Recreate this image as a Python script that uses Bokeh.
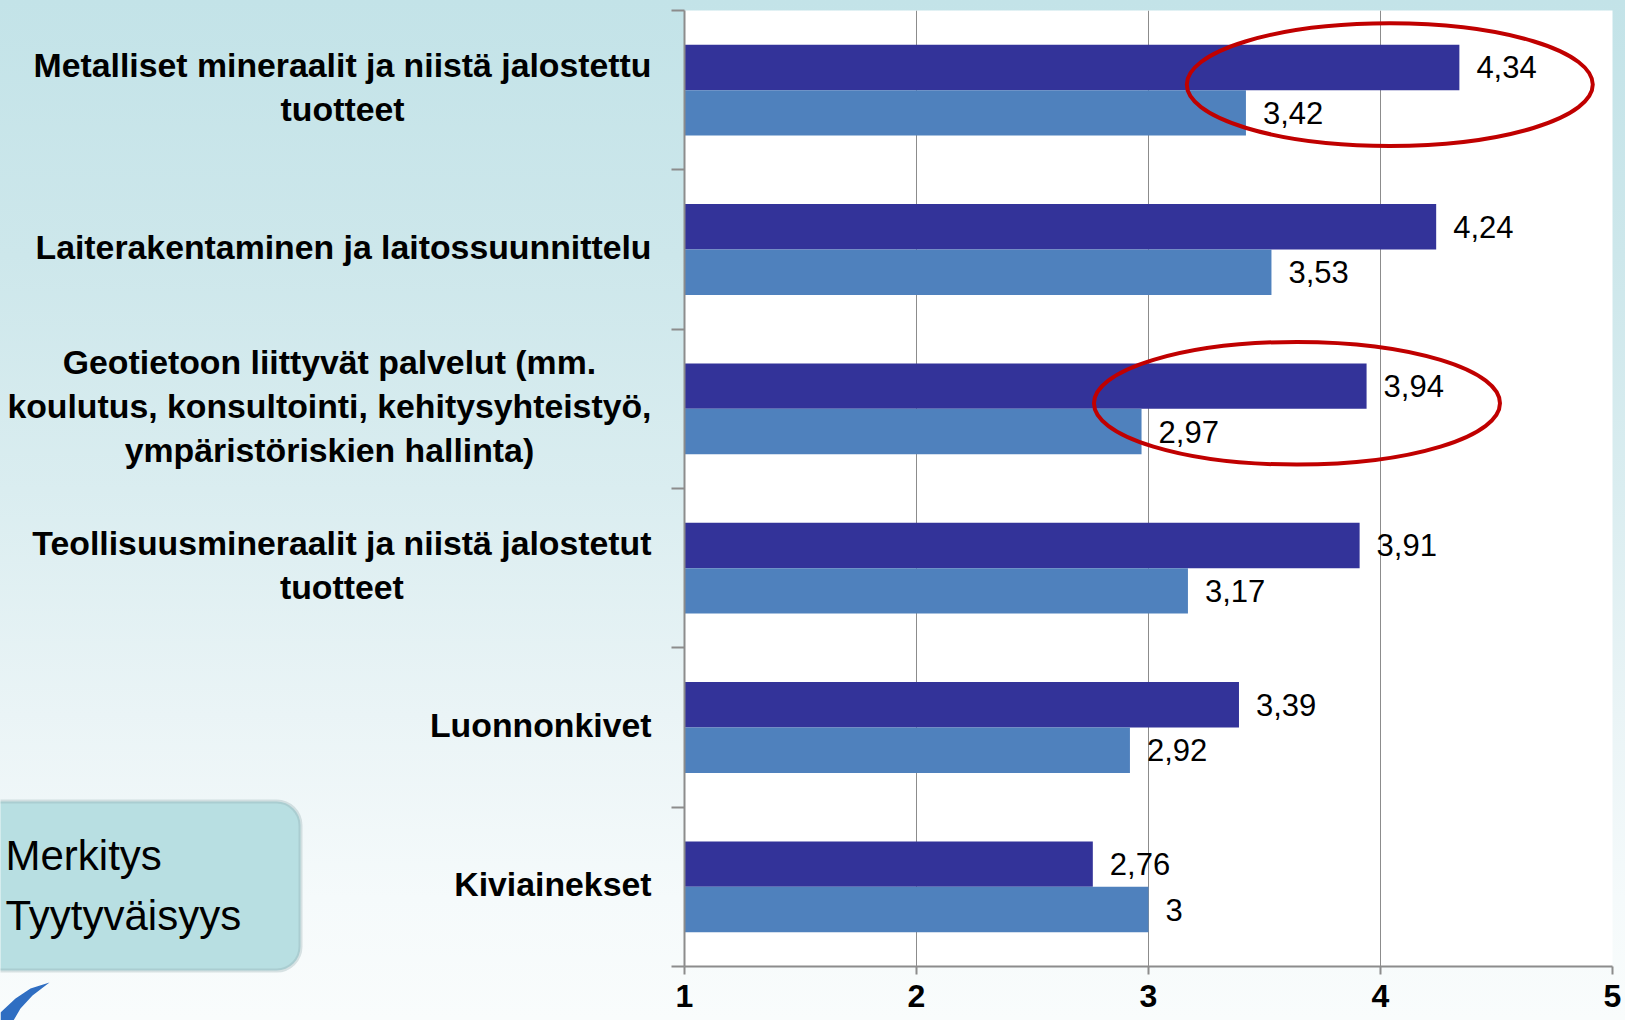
from bokeh.plotting import figure
from bokeh.layouts import row
from bokeh.models import ColumnDataSource, Range1d, FixedTicker, BoxAnnotation
from bokeh.core.properties import value
from bokeh.embed import file_html
from bokeh.resources import INLINE

# ---------------- data ----------------
categories = [
    "Metalliset mineraalit ja niistä jalostettu\ntuotteet",
    "Laiterakentaminen ja laitossuunnittelu",
    "Geotietoon liittyvät palvelut (mm.\nkoulutus, konsultointi, kehitysyhteistyö,\nympäristöriskien hallinta)",
    "Teollisuusmineraalit ja niistä jalostetut\ntuotteet",
    "Luonnonkivet",
    "Kiviainekset",
]
series_names = ["Merkitys", "Tyytyväisyys"]
merkitys = [4.34, 4.24, 3.94, 3.91, 3.39, 2.76]
tyytyvaisyys = [3.42, 3.53, 2.97, 3.17, 2.92, 3.00]
x_ticks = [1, 2, 3, 4, 5]
highlighted = [0, 2]  # categories circled in red

# ---------------- layout constants ----------------
W, H = 1625, 1020
LEFT_W = 668
TOP_B, BOT_B = 10, 54
n = len(categories)
centers = [n - i - 0.5 for i in range(n)]
BAR_H = 0.285
DARK, LIGHT = "#333399", "#4F81BD"
GRID = "#8c8c8c"
FONT = value("Liberation Sans")
GRADIENT = ("linear-gradient(to bottom, #C3E3E8 0%, #CDE7EB 25%, #DAEDF0 48%, "
            "#EAF4F6 70%, #F5FAFB 88%, #F9FCFC 100%)")


def fmt(v):
    return f"{v:g}".replace(".", ",")


# ---------------- chart ----------------
p = figure(width=W - LEFT_W, height=H, x_range=Range1d(x_ticks[0], x_ticks[-1]),
           y_range=Range1d(0, n), output_backend="svg", toolbar_location=None,
           min_border_left=16, min_border_right=13, min_border_top=TOP_B,
           min_border_bottom=BOT_B)
p.frame_align = False
p.styles = {"background": GRADIENT}
p.background_fill_color = "white"
p.border_fill_color = None
p.outline_line_color = None

src = ColumnDataSource(dict(
    y_dark=[c + BAR_H / 2 for c in centers],
    y_light=[c - BAR_H / 2 for c in centers],
    merk=merkitys, tyy=tyytyvaisyys,
    merk_lbl=[fmt(v) for v in merkitys],
    tyy_lbl=[fmt(v) for v in tyytyvaisyys],
))

p.hbar(y="y_dark", left=x_ticks[0], right="merk", height=BAR_H, source=src,
       fill_color=DARK, line_color=None)
p.hbar(y="y_light", left=x_ticks[0], right="tyy", height=BAR_H, source=src,
       fill_color=LIGHT, line_color=None)

p.text(x="merk", y="y_dark", text="merk_lbl", source=src, x_offset=17,
       text_align="left", text_baseline="middle", text_font=FONT,
       text_font_size="31px", text_color="black")
p.text(x="tyy", y="y_light", text="tyy_lbl", source=src, x_offset=17,
       text_align="left", text_baseline="middle", text_font=FONT,
       text_font_size="31px", text_color="black")

# red highlight ellipses
p.ellipse(x=[merkitys[i] - 0.3 for i in highlighted],
          y=[centers[i] + 0.035 for i in highlighted],
          width=1.75, height=0.77, fill_color=None,
          line_color="#C00000", line_width=4)

# grid
p.xgrid.ticker = FixedTicker(ticks=x_ticks)
p.xgrid.grid_line_color = GRID
p.xgrid.grid_line_width = 1
p.ygrid.visible = False

# x axis
xa = p.xaxis[0]
xa.ticker = FixedTicker(ticks=x_ticks)
xa.axis_line_color = GRID
xa.axis_line_width = 2
xa.major_tick_line_color = GRID
xa.major_tick_line_width = 2
xa.major_tick_out = 8
xa.major_tick_in = 0
xa.minor_tick_line_color = None
xa.major_label_standoff = 10
xa.major_label_text_font = "Liberation Sans"
xa.major_label_text_font_style = "bold"
xa.major_label_text_font_size = "32px"
xa.major_label_text_color = "black"

# y axis: ticks at category boundaries, labels drawn on the left panel
ya = p.yaxis[0]
ya.ticker = FixedTicker(ticks=list(range(n + 1)))
ya.major_label_overrides = {i: "" for i in range(n + 1)}
ya.major_label_standoff = 0
ya.axis_line_color = GRID
ya.axis_line_width = 2
ya.major_tick_line_color = GRID
ya.major_tick_line_width = 2
ya.major_tick_out = 13
ya.major_tick_in = 0
ya.minor_tick_line_color = None

# ---------------- left panel (category labels + legend box) ----------------
ppu = (H - TOP_B - BOT_B) / n
yl_top = n + TOP_B / ppu
yl_bot = -BOT_B / ppu


def py(fig_y):
    return yl_top - fig_y / ppu


pl = figure(width=LEFT_W, height=H, x_range=Range1d(0, LEFT_W),
            y_range=Range1d(yl_bot, yl_top), x_axis_type=None, y_axis_type=None,
            output_backend="svg", toolbar_location=None, min_border=0)
pl.frame_align = False
pl.styles = {"background": GRADIENT}
pl.background_fill_color = None
pl.border_fill_color = None
pl.outline_line_color = None
pl.grid.visible = False

pl.text(x=651, y=centers, text=categories, anchor="center_right",
        text_align="center", text_baseline="middle", y_offset=-3, text_font=FONT,
        text_font_style="bold", text_font_size="33.8px", text_line_height=1.15,
        text_color="black")

box = BoxAnnotation(left=-40, right=300, top=py(801), bottom=py(970),
                    fill_color="#B8DFE2", fill_alpha=1, line_color="#8BA5A8",
                    line_width=4, border_radius=24, level="underlay")
pl.add_layout(box)
pl.text(x=5, y=[py(855), py(915)], text=series_names, text_align="left",
        text_baseline="middle", text_font=FONT, text_font_size="42px",
        text_color="black")

# small logo swoosh fragment at the bottom-left corner
pl.patch(x=[0, 15, 30, 49, 32, 20, 13, 0],
         y=[py(1012), py(998), py(988), py(982), py(995), py(1008), py(1020), py(1020)],
         fill_color="#2F6EC2", line_color=None)

layout = row(pl, p)
open("out.html", "w").write(file_html(layout, INLINE))
